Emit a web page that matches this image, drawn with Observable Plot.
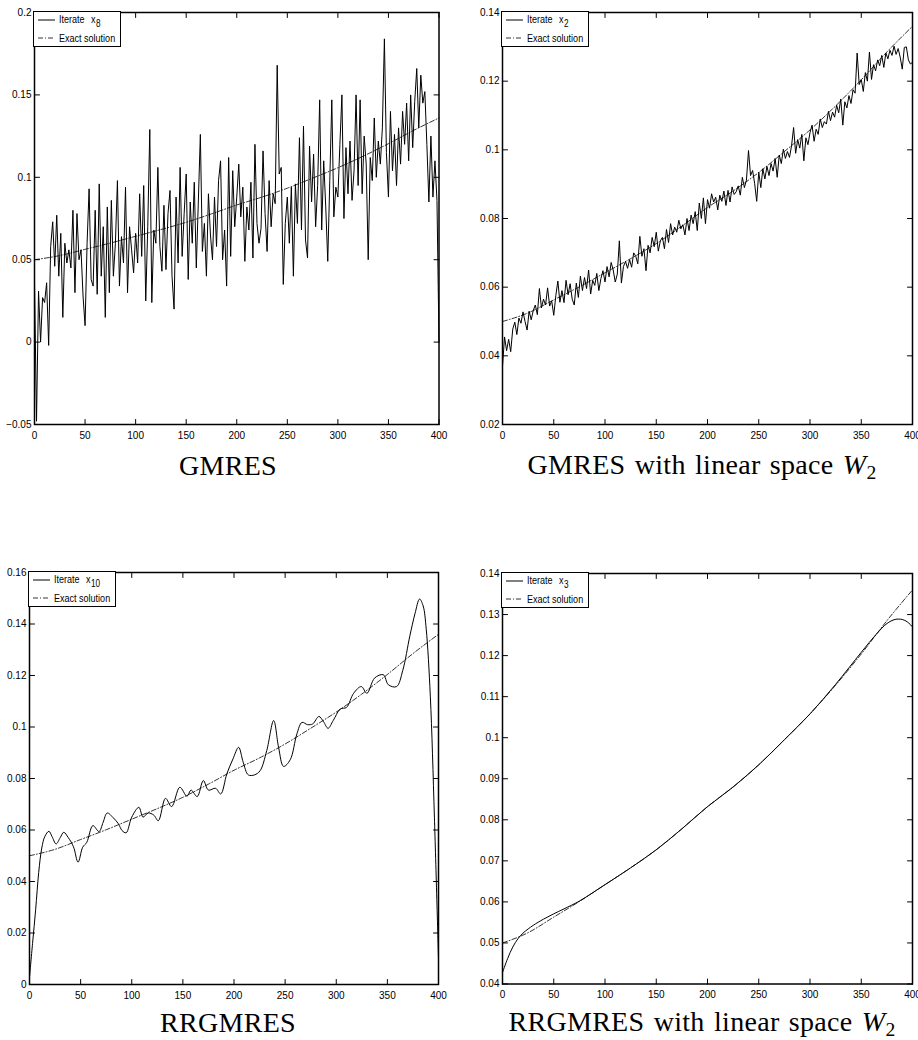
<!DOCTYPE html>
<html><head><meta charset="utf-8">
<script src="https://cdn.jsdelivr.net/npm/d3@7"></script>
<script src="https://cdn.jsdelivr.net/npm/@observablehq/plot@0.6"></script>
<style>
body{margin:0;background:#fff;}
#root{position:relative;width:918px;height:1040px;overflow:hidden;background:#fff;}
.panel{position:absolute;}
.title{position:absolute;font-family:"Liberation Serif","Times New Roman",serif;font-size:28px;line-height:28px;white-space:nowrap;transform:translateX(-50%);letter-spacing:0.3px;word-spacing:2px;color:#000;}
.title sub{font-size:0.7em;vertical-align:-0.25em;line-height:0;}
.legend{position:absolute;border:1.5px solid #000;background:#fff;box-sizing:border-box;width:88px;height:36px;}
.legend svg{position:absolute;overflow:visible;}
.lt{position:absolute;font-family:"Liberation Sans",Arial,sans-serif;font-size:11px;line-height:12px;white-space:nowrap;transform:scaleX(0.82);transform-origin:0 0;color:#000;}
.ls{font-size:10px;}
</style>
</head><body>
<div id="root"></div>
<script>
// ---- shared axis ticks ----
const xTicks = [0, 50, 100, 150, 200, 250, 300, 350, 400];
const yTicksGmres = [-0.05, 0, 0.05, 0.1, 0.15, 0.2];
const yTicksGmresW2 = [0.02, 0.04, 0.06, 0.08, 0.1, 0.12, 0.14];
const yTicksRr = [0, 0.02, 0.04, 0.06, 0.08, 0.1, 0.12, 0.14, 0.16];
const yTicksRrW2 = [0.04, 0.05, 0.06, 0.07, 0.08, 0.09, 0.1, 0.11, 0.12, 0.13, 0.14];

// ---- exact solution (read every 25 units) ----
const exactX = [0, 25, 50, 75, 100, 125, 150, 175, 200, 225, 250, 275, 300, 325, 350, 375, 400];
const exactY = [0.0500, 0.0525, 0.0563, 0.0601, 0.0642, 0.0683, 0.0727, 0.0778, 0.0832, 0.0880, 0.0934, 0.0995, 0.1058, 0.1128, 0.1204, 0.1285, 0.1360];

// ---- GMRES iterate x8 (every 2 units, 0..400) ----
const gmresY = [
  0.037, -0.048, 0.031, 0.000, 0.027, 0.024, 0.036, -0.002, 0.058, 0.073,
  0.046, 0.077, 0.040, 0.066, 0.015, 0.060, 0.048, 0.056, 0.045, 0.080,
  0.030, 0.078, 0.050, 0.056, 0.028, 0.010, 0.060, 0.093, 0.038, 0.034,
  0.080, 0.029, 0.096, 0.040, 0.070, 0.015, 0.082, 0.030, 0.086, 0.040,
  0.060, 0.098, 0.034, 0.064, 0.048, 0.094, 0.030, 0.070, 0.056, 0.042,
  0.066, 0.048, 0.090, 0.052, 0.095, 0.025, 0.070, 0.129, 0.024, 0.068,
  0.060, 0.106, 0.058, 0.043, 0.083, 0.044, 0.078, 0.092, 0.040, 0.020,
  0.088, 0.048, 0.106, 0.052, 0.078, 0.102, 0.038, 0.085, 0.060, 0.097,
  0.045, 0.085, 0.126, 0.055, 0.072, 0.040, 0.090, 0.065, 0.050, 0.088,
  0.058, 0.098, 0.110, 0.050, 0.068, 0.034, 0.112, 0.052, 0.104, 0.070,
  0.088, 0.108, 0.076, 0.094, 0.049, 0.082, 0.068, 0.097, 0.051, 0.120,
  0.072, 0.060, 0.069, 0.116, 0.078, 0.055, 0.098, 0.070, 0.090, 0.084,
  0.168, 0.102, 0.106, 0.035, 0.072, 0.088, 0.060, 0.094, 0.040, 0.096,
  0.072, 0.124, 0.068, 0.131, 0.062, 0.051, 0.119, 0.085, 0.114, 0.070,
  0.095, 0.147, 0.068, 0.110, 0.082, 0.049, 0.098, 0.147, 0.076, 0.094,
  0.088, 0.120, 0.150, 0.075, 0.118, 0.090, 0.122, 0.086, 0.104, 0.150,
  0.095, 0.147, 0.090, 0.125, 0.108, 0.050, 0.112, 0.098, 0.136, 0.100,
  0.122, 0.108, 0.130, 0.184, 0.115, 0.088, 0.140, 0.104, 0.126, 0.095,
  0.130, 0.108, 0.140, 0.120, 0.145, 0.110, 0.150, 0.118, 0.146, 0.166,
  0.130, 0.162, 0.145, 0.152, 0.120, 0.085, 0.125, 0.088, 0.110, 0.086,
  0.000
];

// ---- GMRES with W2, iterate x2 (every 2 units, 0..400) ----
const gmresW2Y = [
  0.0370, 0.0455, 0.0415, 0.0448, 0.0412, 0.0478, 0.0498, 0.0462, 0.0510, 0.0495,
  0.0528, 0.0500, 0.0475, 0.0530, 0.0505, 0.0532, 0.0548, 0.0520, 0.0596, 0.0540,
  0.0565, 0.0548, 0.0598, 0.0545, 0.0560, 0.0518, 0.0575, 0.0618, 0.0556, 0.0590,
  0.0555, 0.0620, 0.0578, 0.0610, 0.0565, 0.0548, 0.0612, 0.0570, 0.0632, 0.0590,
  0.0628, 0.0596, 0.0650, 0.0580, 0.0620, 0.0605, 0.0640, 0.0590, 0.0625, 0.0648,
  0.0615, 0.0660, 0.0630, 0.0672, 0.0650, 0.0615, 0.0638, 0.0735, 0.0612, 0.0660,
  0.0675, 0.0655, 0.0680, 0.0658, 0.0700, 0.0690, 0.0668, 0.0748, 0.0690, 0.0712,
  0.0648, 0.0722, 0.0700, 0.0745, 0.0718, 0.0760, 0.0705, 0.0735, 0.0745, 0.0712,
  0.0768, 0.0730, 0.0785, 0.0752, 0.0775, 0.0760, 0.0795, 0.0770, 0.0782, 0.0752,
  0.0800, 0.0765, 0.0810, 0.0785, 0.0820, 0.0765, 0.0845, 0.0800, 0.0860, 0.0785,
  0.0855, 0.0830, 0.0872, 0.0848, 0.0862, 0.0825, 0.0868, 0.0850, 0.0880, 0.0838,
  0.0882, 0.0848, 0.0892, 0.0870, 0.0878, 0.0895, 0.0868, 0.0920, 0.0890, 0.0912,
  0.0998, 0.0925, 0.0940, 0.0902, 0.0850, 0.0935, 0.0890, 0.0945, 0.0915, 0.0952,
  0.0925, 0.0960, 0.0938, 0.0975, 0.0920, 0.0985, 0.0960, 0.1002, 0.0975, 0.0995,
  0.0978, 0.1012, 0.1065, 0.0990, 0.1030, 0.1005, 0.1045, 0.0968, 0.1035, 0.1015,
  0.1050, 0.1072, 0.1025, 0.1060, 0.1045, 0.1090, 0.1065, 0.1082, 0.1075, 0.1112,
  0.1085, 0.1110, 0.1095, 0.1130, 0.1108, 0.1148, 0.1072, 0.1140, 0.1122, 0.1158,
  0.1135, 0.1175, 0.1165, 0.1282, 0.1190, 0.1205, 0.1170, 0.1225, 0.1200, 0.1285,
  0.1205, 0.1248, 0.1230, 0.1262, 0.1245, 0.1275, 0.1240, 0.1282, 0.1265, 0.1290,
  0.1275, 0.1302, 0.1278, 0.1295, 0.1270, 0.1235, 0.1298, 0.1300, 0.1262, 0.1250,
  0.1255
];

// ---- RRGMRES iterate x10 ----
const rrX = [0, 3, 6, 9, 12, 15, 19, 22, 26, 30, 33.5, 38, 43, 47.5, 52, 56, 62, 68, 72, 76, 82, 87, 90.5, 94.5, 100, 107, 111, 116, 121.5, 126, 133, 139, 147, 154, 158, 164, 170, 175, 182, 187, 193, 199, 204.5, 209, 214, 220, 225.5, 232, 238.8, 243.6, 248.5, 255, 261.5, 266.5, 272, 277, 283, 287.5, 292, 297, 304, 310, 317, 324.5, 330, 337.5, 346, 351, 359, 365, 372, 377, 381.5, 385, 388, 392, 396, 400];
const rrY = [0.0028, 0.016, 0.029, 0.0435, 0.053, 0.0575, 0.0595, 0.0575, 0.0546, 0.057, 0.0591, 0.057, 0.0535, 0.0475, 0.0533, 0.0552, 0.0617, 0.0594, 0.063, 0.0666, 0.0647, 0.0624, 0.0598, 0.0589, 0.065, 0.0688, 0.065, 0.0666, 0.0658, 0.0636, 0.0723, 0.0691, 0.0766, 0.0731, 0.0755, 0.073, 0.0792, 0.0755, 0.0762, 0.074, 0.0818, 0.0876, 0.0921, 0.0863, 0.0814, 0.0814, 0.083, 0.0908, 0.1025, 0.0921, 0.0847, 0.0873, 0.0973, 0.1018, 0.1009, 0.1012, 0.1041, 0.1021, 0.0995, 0.1025, 0.107, 0.1076, 0.1131, 0.1157, 0.1131, 0.119, 0.1203, 0.1164, 0.1157, 0.1219, 0.1354, 0.144, 0.1497, 0.147, 0.138, 0.112, 0.065, 0.010];

// ---- RRGMRES with W2, iterate x3 ----
const rrW2X = [0, 5, 10, 15, 20, 25, 30, 40, 50, 60, 75, 100, 125, 150, 175, 200, 225, 250, 275, 300, 325, 350, 365, 375, 383, 390, 395, 400];
const rrW2Y = [0.0428, 0.0462, 0.0490, 0.0510, 0.0524, 0.0534, 0.0543, 0.0558, 0.0571, 0.0583, 0.0602, 0.0642, 0.0683, 0.0727, 0.0778, 0.0832, 0.0880, 0.0934, 0.0995, 0.1058, 0.1130, 0.1208, 0.1253, 0.1278, 0.1288, 0.1288, 0.1282, 0.1270];

const step2X = d3.range(0, 401, 2);
const toRows = (xs, ys) => xs.map((x, i) => ({x, y: ys[i]}));
const exact = toRows(exactX, exactY);
const fmt = d3.format("~g");

// inward tick shape for Plot.vector (a plain segment)
const tickShape = {draw(context, l) { context.moveTo(0, 0); context.lineTo(0, -l); }};
const inTicks = (data, chan, frameAnchor, rotate) =>
  Plot.vector(data, {[chan]: d => d, frameAnchor, rotate, length: 5, anchor: "start", shape: tickShape, stroke: "#000", strokeWidth: 1});

const panels = [
  {left: 0, top: 0, w: 459, h: 445, ml: 34, mr: 20.5, mt: 12, mb: 21, ydomain: [-0.05, 0.2], yticks: yTicksGmres,
   iter: toRows(step2X, gmresY), curve: "linear", sub: "8", title: "GMRES", tcx: 228, tby: 475},
  {left: 459, top: 0, w: 459, h: 445, ml: 43, mr: 6, mt: 12, mb: 21, ydomain: [0.02, 0.14], yticks: yTicksGmresW2,
   iter: toRows(step2X, gmresW2Y), curve: "linear", sub: "2", title: "GMRES with linear space <i>W</i><sub>2</sub>", tcx: 702, tby: 474},
  {left: 0, top: 540, w: 459, h: 460, ml: 29, mr: 21, mt: 32, mb: 16, ydomain: [0, 0.16], yticks: yTicksRr,
   iter: toRows(rrX, rrY), curve: "catmull-rom", sub: "10", title: "RRGMRES", tcx: 228, tby: 1032},
  {left: 459, top: 540, w: 459, h: 460, ml: 43, mr: 6, mt: 33, mb: 16.5, ydomain: [0.04, 0.14], yticks: yTicksRrW2,
   iter: toRows(rrW2X, rrW2Y), curve: "catmull-rom", sub: "3", title: "RRGMRES with linear space <i>W</i><sub>2</sub>", tcx: 702, tby: 1031}
];

const root = document.getElementById("root");
for (const p of panels) {
  const svg = Plot.plot({
    width: p.w, height: p.h,
    marginLeft: p.ml, marginRight: p.mr, marginTop: p.mt, marginBottom: p.mb,
    x: {domain: [0, 400]},
    y: {domain: p.ydomain},
    style: {fontFamily: "'Liberation Sans', Arial, sans-serif", fontSize: "10px", color: "#000", background: "transparent", overflow: "visible"},
    marks: [
      Plot.line(exact, {x: "x", y: "y", stroke: "#000", strokeWidth: 0.8, strokeDasharray: "5,2,1,2", curve: "monotone-x"}),
      Plot.line(p.iter, {x: "x", y: "y", stroke: "#000", strokeWidth: 1, curve: p.curve}),
      Plot.axisX(xTicks, {anchor: "bottom", tickSize: 0, tickPadding: 7, tickFormat: fmt, label: null}),
      Plot.axisY(p.yticks, {anchor: "left", tickSize: 0, tickPadding: 3, tickFormat: fmt, label: null}),
      inTicks(xTicks, "x", "bottom", 0),
      inTicks(xTicks, "x", "top", 180),
      inTicks(p.yticks, "y", "left", 90),
      inTicks(p.yticks, "y", "right", -90),
      Plot.frame({stroke: "#000", strokeWidth: 1.5})
    ]
  });
  const holder = document.createElement("div");
  holder.className = "panel";
  holder.style.left = p.left + "px";
  holder.style.top = p.top + "px";
  holder.appendChild(svg);
  root.appendChild(holder);

  const lg = document.createElement("div");
  lg.className = "legend";
  lg.style.left = (p.left + p.ml - 0.75) + "px";
  lg.style.top = (p.top + p.mt - 0.75) + "px";
  lg.innerHTML =
    `<svg style="left:4px;top:3px" width="17" height="10"><line x1="0" x2="17" y1="5" y2="5" stroke="#000" stroke-width="1"/></svg>` +
    `<span class="lt" style="left:25px;top:1px">Iterate</span>` +
    `<span class="lt" style="left:57px;top:1px">x</span>` +
    `<span class="lt ls" style="left:62px;top:6px">${p.sub}</span>` +
    `<svg style="left:4px;top:21px" width="17" height="10"><line x1="0" x2="17" y1="5" y2="5" stroke="#000" stroke-width="0.8" stroke-dasharray="5,2,1,2"/></svg>` +
    `<span class="lt" style="left:25px;top:20px">Exact solution</span>`;
  root.appendChild(lg);

  const t = document.createElement("div");
  t.className = "title";
  t.style.left = p.tcx + "px";
  t.style.top = (p.tby - 23.5) + "px";
  t.innerHTML = p.title;
  root.appendChild(t);
}
</script>
</body></html>
